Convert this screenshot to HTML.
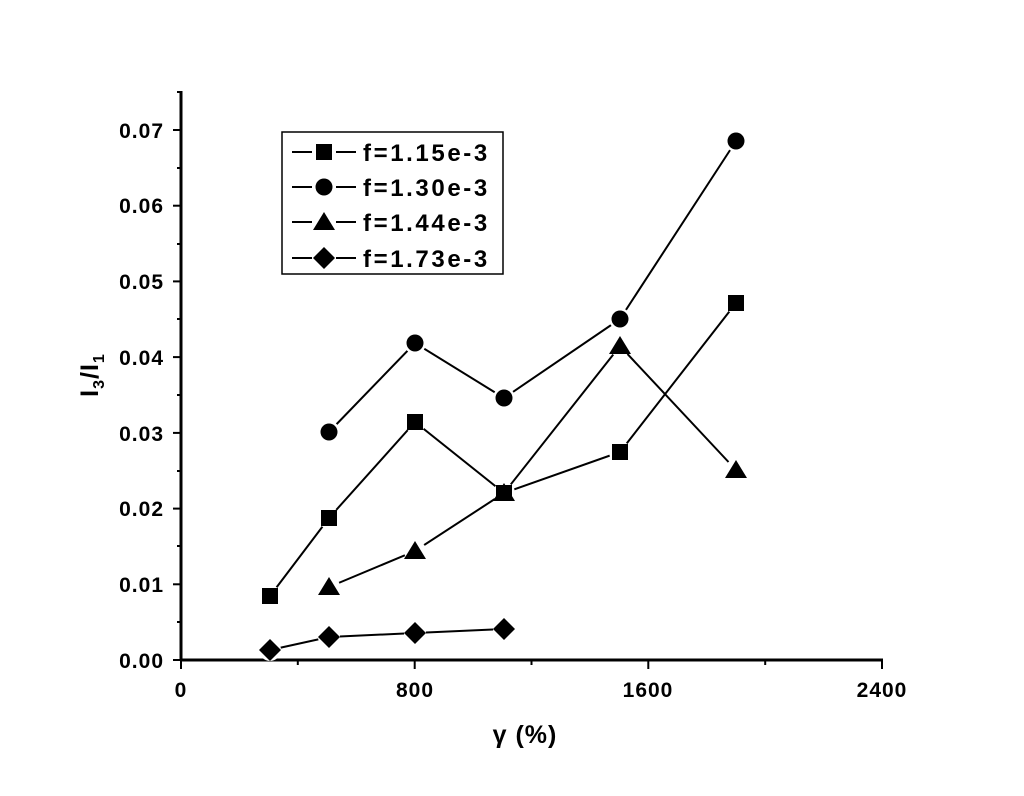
<!DOCTYPE html>
<html><head><style>body{margin:0;background:#fff}</style></head><body>
<svg width="1024" height="791" xmlns="http://www.w3.org/2000/svg" font-family="Liberation Sans, sans-serif" font-weight="bold">
<rect width="1024" height="791" fill="#fff"/>
<g stroke="#000" stroke-width="3" fill="none">
<line x1="181" y1="91" x2="181" y2="661"/>
<line x1="180" y1="660" x2="883" y2="660"/>
</g>
<g stroke="#000" stroke-width="2">
<line x1="173" y1="660" x2="181" y2="660"/><line x1="173" y1="584.3" x2="181" y2="584.3"/><line x1="173" y1="508.6" x2="181" y2="508.6"/><line x1="173" y1="432.9" x2="181" y2="432.9"/><line x1="173" y1="357.1" x2="181" y2="357.1"/><line x1="173" y1="281.4" x2="181" y2="281.4"/><line x1="173" y1="205.7" x2="181" y2="205.7"/><line x1="173" y1="130" x2="181" y2="130"/>
<line x1="177" y1="622" x2="181" y2="622"/><line x1="177" y1="546" x2="181" y2="546"/><line x1="177" y1="471" x2="181" y2="471"/><line x1="177" y1="395" x2="181" y2="395"/><line x1="177" y1="319" x2="181" y2="319"/><line x1="177" y1="244" x2="181" y2="244"/><line x1="177" y1="168" x2="181" y2="168"/><line x1="177" y1="92" x2="181" y2="92"/>
<line x1="181" y1="660" x2="181" y2="669"/><line x1="414.7" y1="660" x2="414.7" y2="669"/><line x1="648.3" y1="660" x2="648.3" y2="669"/><line x1="882" y1="660" x2="882" y2="669"/>
<line x1="297.8" y1="660" x2="297.8" y2="665"/><line x1="531.5" y1="660" x2="531.5" y2="665"/><line x1="765.2" y1="660" x2="765.2" y2="665"/>
</g>
<g font-size="21" text-anchor="end" letter-spacing="1">
<text x="164" y="668">0.00</text><text x="164" y="592">0.01</text><text x="164" y="516">0.02</text><text x="164" y="441">0.03</text><text x="164" y="365">0.04</text><text x="164" y="289">0.05</text><text x="164" y="213">0.06</text><text x="164" y="138">0.07</text>
</g>
<g font-size="21" text-anchor="middle" letter-spacing="1">
<text x="181" y="697">0</text><text x="415" y="697">800</text><text x="648" y="697">1600</text><text x="882" y="697">2400</text>
</g>
<text x="525" y="743" font-size="25" text-anchor="middle" letter-spacing="1">γ (%)</text>
<text transform="translate(98,375) rotate(-90)" font-size="25" text-anchor="middle" letter-spacing="1">I<tspan font-size="16" dy="6">3</tspan><tspan dy="-6">/I</tspan><tspan font-size="16" dy="6">1</tspan></text>
<g stroke="#000" stroke-width="2" fill="none">
<polyline points="270,596 329,518 415,422 504,493 620,452 736,303"/>
<polyline points="329,432 415,343 504,398 620,319 736,141"/>
<polyline points="329,587 415,551 504,493 620,346 736,470"/>
<polyline points="270,650 329,637 415,633 504,629"/>
</g>
<g fill="#fff">
<circle cx="270" cy="596" r="11"/><circle cx="329" cy="518" r="11"/><circle cx="415" cy="422" r="11"/><circle cx="504" cy="493" r="11"/><circle cx="620" cy="452" r="11"/><circle cx="736" cy="303" r="11"/>
<circle cx="329" cy="432" r="11"/><circle cx="415" cy="343" r="11"/><circle cx="504" cy="398" r="11"/><circle cx="620" cy="319" r="11"/><circle cx="736" cy="141" r="11"/>
<circle cx="329" cy="587" r="11"/><circle cx="415" cy="551" r="11"/><circle cx="620" cy="346" r="11"/><circle cx="736" cy="470" r="11"/>
<circle cx="270" cy="650" r="11"/><circle cx="329" cy="637" r="11"/><circle cx="415" cy="633" r="11"/><circle cx="504" cy="629" r="11"/>
</g>
<g fill="#000">
<rect x="262" y="588" width="16" height="16"/><rect x="321" y="510" width="16" height="16"/><rect x="407" y="414" width="16" height="16"/><rect x="496" y="485" width="16" height="16"/><rect x="612" y="444" width="16" height="16"/><rect x="728" y="295" width="16" height="16"/>
<circle cx="329" cy="432" r="8.5"/><circle cx="415" cy="343" r="8.5"/><circle cx="504" cy="398" r="8.5"/><circle cx="620" cy="319" r="8.5"/><circle cx="736" cy="141" r="8.5"/>
<polygon points="329,577 340,595 318,595"/><polygon points="415,541 426,559 404,559"/><polygon points="504,483 515,501 493,501"/><polygon points="620,336 631,354 609,354"/><polygon points="736,460 747,478 725,478"/>
<polygon points="270,639 281,650 270,661 259,650"/><polygon points="329,626 340,637 329,648 318,637"/><polygon points="415,622 426,633 415,644 404,633"/><polygon points="504,618 515,629 504,640 493,629"/>
</g>
<rect x="282" y="132" width="221" height="142" fill="#fff" stroke="#000" stroke-width="1.5"/>
<g stroke="#000" stroke-width="2">
<line x1="292" y1="152" x2="356" y2="152"/><line x1="292" y1="187" x2="356" y2="187"/><line x1="292" y1="222" x2="356" y2="222"/><line x1="292" y1="258" x2="356" y2="258"/>
</g>
<g fill="#fff"><rect x="312" y="140" width="24" height="24"/><rect x="312" y="175" width="24" height="24"/><rect x="312" y="210" width="24" height="24"/><rect x="312" y="246" width="24" height="24"/></g>
<g fill="#000">
<rect x="316" y="144" width="16" height="16"/>
<circle cx="324" cy="187" r="8.5"/>
<polygon points="324,212 335,230 313,230"/>
<polygon points="324,247 335,258 324,269 313,258"/>
</g>
<g font-size="24" letter-spacing="2.6">
<text x="363" y="161">f=1.15e-3</text><text x="363" y="196">f=1.30e-3</text><text x="363" y="231">f=1.44e-3</text><text x="363" y="267">f=1.73e-3</text>
</g>
</svg>
</body></html>
